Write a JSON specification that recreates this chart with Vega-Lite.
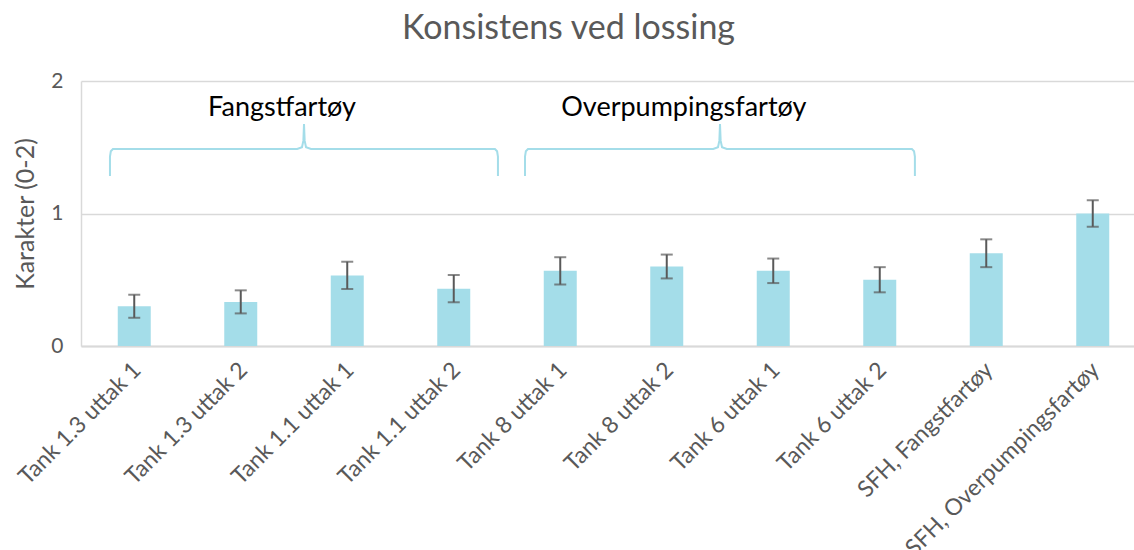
{
  "$schema": "https://vega.github.io/schema/vega-lite/v6.json",
  "width": 1053,
  "height": 265,
  "autosize": {"type": "none"},
  "padding": {"left": 81, "top": 81, "right": 0, "bottom": 204},
  "background": "white",
  "config": {
    "view": {"stroke": null},
    "font": "Lato",
    "axis": {"labelFont": "Lato", "titleFont": "Lato"}
  },
  "title": {
    "text": "Konsistens ved lossing",
    "fontSize": 34,
    "font": "Lato",
    "fontWeight": "normal",
    "color": "#595959",
    "anchor": "middle",
    "frame": "group",
    "dx": -39,
    "offset": 24
  },
  "datasets": {
    "bars": [
      {"kategori": "Tank 1.3 uttak 1", "karakter": 0.30, "lo": 0.213, "hi": 0.387},
      {"kategori": "Tank 1.3 uttak 2", "karakter": 0.333, "lo": 0.246, "hi": 0.42},
      {"kategori": "Tank 1.1 uttak 1", "karakter": 0.533, "lo": 0.43, "hi": 0.636},
      {"kategori": "Tank 1.1 uttak 2", "karakter": 0.433, "lo": 0.33, "hi": 0.536},
      {"kategori": "Tank 8 uttak 1", "karakter": 0.567, "lo": 0.464, "hi": 0.67},
      {"kategori": "Tank 8 uttak 2", "karakter": 0.60, "lo": 0.51, "hi": 0.69},
      {"kategori": "Tank 6 uttak 1", "karakter": 0.567, "lo": 0.475, "hi": 0.66},
      {"kategori": "Tank 6 uttak 2", "karakter": 0.50, "lo": 0.405, "hi": 0.595},
      {"kategori": "SFH, Fangstfartøy", "karakter": 0.70, "lo": 0.595, "hi": 0.805},
      {"kategori": "SFH, Overpumpingsfartøy", "karakter": 1.00, "lo": 0.90, "hi": 1.10}
    ],
    "braces": [
      {"brace": "A", "i": 1, "bx": 0.272, "by": 1.283},
      {"brace": "A", "i": 2, "bx": 0.272, "by": 1.43},
      {"brace": "A", "i": 3, "bx": 0.28, "by": 1.47},
      {"brace": "A", "i": 4, "bx": 0.30, "by": 1.487},
      {"brace": "A", "i": 5, "bx": 2.03, "by": 1.487},
      {"brace": "A", "i": 6, "bx": 2.075, "by": 1.50},
      {"brace": "A", "i": 7, "bx": 2.088, "by": 1.55},
      {"brace": "A", "i": 8, "bx": 2.094, "by": 1.675},
      {"brace": "A", "i": 9, "bx": 2.10, "by": 1.55},
      {"brace": "A", "i": 10, "bx": 2.113, "by": 1.50},
      {"brace": "A", "i": 11, "bx": 2.16, "by": 1.487},
      {"brace": "A", "i": 12, "bx": 3.887, "by": 1.487},
      {"brace": "A", "i": 13, "bx": 3.907, "by": 1.47},
      {"brace": "A", "i": 14, "bx": 3.915, "by": 1.43},
      {"brace": "A", "i": 15, "bx": 3.915, "by": 1.283},
      {"brace": "B", "i": 1, "bx": 4.169, "by": 1.283},
      {"brace": "B", "i": 2, "bx": 4.169, "by": 1.43},
      {"brace": "B", "i": 3, "bx": 4.177, "by": 1.47},
      {"brace": "B", "i": 4, "bx": 4.197, "by": 1.487},
      {"brace": "B", "i": 5, "bx": 5.936, "by": 1.487},
      {"brace": "B", "i": 6, "bx": 5.981, "by": 1.50},
      {"brace": "B", "i": 7, "bx": 5.994, "by": 1.55},
      {"brace": "B", "i": 8, "bx": 6.0, "by": 1.675},
      {"brace": "B", "i": 9, "bx": 6.006, "by": 1.55},
      {"brace": "B", "i": 10, "bx": 6.019, "by": 1.50},
      {"brace": "B", "i": 11, "bx": 6.064, "by": 1.487},
      {"brace": "B", "i": 12, "bx": 7.802, "by": 1.487},
      {"brace": "B", "i": 13, "bx": 7.822, "by": 1.47},
      {"brace": "B", "i": 14, "bx": 7.83, "by": 1.43},
      {"brace": "B", "i": 15, "bx": 7.83, "by": 1.283}
    ],
    "labels": [
      {"tekst": "Fangstfartøy", "bx": 1.887, "by": 1.80},
      {"tekst": "Overpumpingsfartøy", "bx": 5.66, "by": 1.80}
    ]
  },
  "layer": [
    {
      "data": {"name": "bars"},
      "encoding": {
        "x": {
          "field": "kategori",
          "type": "nominal",
          "sort": null,
          "scale": {"range": [0, 1065], "paddingInner": 0, "paddingOuter": 0},
          "axis": {
            "title": null,
            "labelAngle": -45,
            "labelAlign": "right",
            "labelBaseline": "middle",
            "labelFontSize": 23,
            "labelColor": "#595959",
            "labelPadding": 20,
            "labelOffset": 3,
            "ticks": false,
            "domainColor": "#d9d9d9",
            "domainWidth": 2,
            "labelLimit": 400
          }
        }
      },
      "layer": [
        {
          "mark": {"type": "bar", "width": 33, "color": "#a4dde9"},
          "encoding": {
            "y": {
              "field": "karakter",
              "type": "quantitative",
              "scale": {"domain": [0, 2], "nice": false},
              "axis": {"title": "Karakter (0-2)", "titleFontSize": 25, "titleFontWeight": "normal", "titleColor": "#595959", "titlePadding": 12, "values": [0, 1, 2], "format": ".0f", "labelFontSize": 21, "labelColor": "#595959", "labelPadding": 18, "labelOverlap": false, "ticks": false, "grid": true, "gridColor": "#d9d9d9", "gridWidth": 1.5, "domainColor": "#d9d9d9", "domainWidth": 1.5}
            }
          }
        },
        {
          "mark": {"type": "rule", "color": "#595959", "strokeWidth": 2},
          "encoding": {
            "y": {"field": "lo", "type": "quantitative",
              "axis": {"title": "Karakter (0-2)", "titleFontSize": 25, "titleFontWeight": "normal", "titleColor": "#595959", "titlePadding": 12, "values": [0, 1, 2], "format": ".0f", "labelFontSize": 21, "labelColor": "#595959", "labelPadding": 18, "labelOverlap": false, "ticks": false, "grid": true, "gridColor": "#d9d9d9", "gridWidth": 1.5, "domainColor": "#d9d9d9", "domainWidth": 1.5}},
            "y2": {"field": "hi"}
          }
        },
        {
          "mark": {"type": "tick", "color": "#595959", "size": 12, "thickness": 2},
          "encoding": {"y": {"field": "lo", "type": "quantitative",
              "axis": {"title": "Karakter (0-2)", "titleFontSize": 25, "titleFontWeight": "normal", "titleColor": "#595959", "titlePadding": 12, "values": [0, 1, 2], "format": ".0f", "labelFontSize": 21, "labelColor": "#595959", "labelPadding": 18, "labelOverlap": false, "ticks": false, "grid": true, "gridColor": "#d9d9d9", "gridWidth": 1.5, "domainColor": "#d9d9d9", "domainWidth": 1.5}}}
        },
        {
          "mark": {"type": "tick", "color": "#595959", "size": 12, "thickness": 2},
          "encoding": {"y": {"field": "hi", "type": "quantitative",
              "axis": {"title": "Karakter (0-2)", "titleFontSize": 25, "titleFontWeight": "normal", "titleColor": "#595959", "titlePadding": 12, "values": [0, 1, 2], "format": ".0f", "labelFontSize": 21, "labelColor": "#595959", "labelPadding": 18, "labelOverlap": false, "ticks": false, "grid": true, "gridColor": "#d9d9d9", "gridWidth": 1.5, "domainColor": "#d9d9d9", "domainWidth": 1.5}}}
        }
      ]
    },
    {
      "data": {"name": "braces"},
      "mark": {"type": "line", "color": "#a4dde9", "strokeWidth": 2},
      "encoding": {
        "x": {"field": "bx", "type": "quantitative", "scale": {"domain": [0, 10], "range": [0, 1065], "nice": false, "zero": false}, "axis": null},
        "y": {"field": "by", "type": "quantitative",
          "axis": {"title": "Karakter (0-2)", "titleFontSize": 25, "titleFontWeight": "normal", "titleColor": "#595959", "titlePadding": 12, "values": [0, 1, 2], "format": ".0f", "labelFontSize": 21, "labelColor": "#595959", "labelPadding": 18, "labelOverlap": false, "ticks": false, "grid": true, "gridColor": "#d9d9d9", "gridWidth": 1.5, "domainColor": "#d9d9d9", "domainWidth": 1.5}},
        "detail": {"field": "brace"},
        "order": {"field": "i", "type": "quantitative"}
      }
    },
    {
      "data": {"name": "labels"},
      "mark": {"type": "text", "fontSize": 27, "font": "Lato", "color": "#000000", "align": "center", "baseline": "middle"},
      "encoding": {
        "x": {"field": "bx", "type": "quantitative", "scale": {"domain": [0, 10], "range": [0, 1065], "nice": false, "zero": false}, "axis": null},
        "y": {"field": "by", "type": "quantitative",
          "axis": {"title": "Karakter (0-2)", "titleFontSize": 25, "titleFontWeight": "normal", "titleColor": "#595959", "titlePadding": 12, "values": [0, 1, 2], "format": ".0f", "labelFontSize": 21, "labelColor": "#595959", "labelPadding": 18, "labelOverlap": false, "ticks": false, "grid": true, "gridColor": "#d9d9d9", "gridWidth": 1.5, "domainColor": "#d9d9d9", "domainWidth": 1.5}},
        "text": {"field": "tekst"}
      }
    }
  ],
  "resolve": {"scale": {"x": "independent"}, "axis": {"x": "independent"}}
}
